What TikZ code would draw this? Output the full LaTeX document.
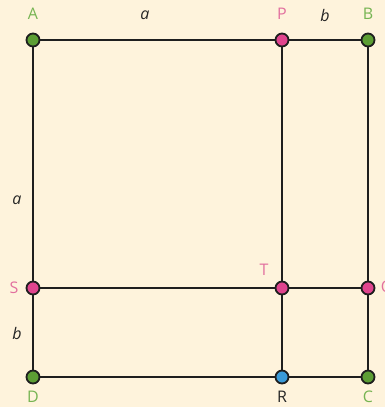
\documentclass[tikz,border=0pt]{standalone}
\usepackage{fontspec}
\setmainfont{Open Sans}
\definecolor{paper}{HTML}{FEF3DC}
\definecolor{ptgreen}{HTML}{5C9E34}
\definecolor{lblgreen}{HTML}{76B452}
\definecolor{ptpink}{HTML}{E0448E}
\definecolor{lblpink}{HTML}{E2709F}
\definecolor{ptblue}{HTML}{3A9AD8}
\definecolor{edge}{HTML}{1E1E1E}
\begin{document}
\begin{tikzpicture}[
        x=1pt, y=-1pt,
        pt/.style={circle, draw=edge, line width=1.8pt, minimum size=13pt, inner sep=0pt},
        side/.style={draw=edge, line width=2.7pt},
        lbl/.style={font=\fontsize{16}{19}\selectfont, inner sep=0pt},
        len/.style={font=\fontsize{16}{19}\selectfont\itshape, inner sep=0pt, text=black!85},
    ]
        \fill[paper] (0,0) rectangle (385,407);
        \useasboundingbox (0,0) rectangle (385,407);

        % sides
        \coordinate (a) at (33,40);
        \coordinate (p) at (282,40);
        \coordinate (b) at (368,40);
        \coordinate (s) at (33,288);
        \coordinate (t) at (282,288);
        \coordinate (q) at (368,288);
        \coordinate (d) at (33,377);
        \coordinate (r) at (282,377);
        \coordinate (c) at (368,377);

        \draw[side] (a) -- (b) -- (c) -- (d) -- cycle;
        \draw[side] (p) -- (r);
        \draw[side] (s) -- (q);

        % points
        \node[pt, fill=ptgreen] (A) at (a) {};
        \node[pt, fill=ptpink] (P) at (p) {};
        \node[pt, fill=ptgreen] (B) at (b) {};
        \node[pt, fill=ptpink] (S) at (s) {};
        \node[pt, fill=ptpink] (T) at (t) {};
        \node[pt, fill=ptpink] (Q) at (q) {};
        \node[pt, fill=ptgreen] (D) at (d) {};
        \node[pt, fill=ptblue] (R) at (r) {};
        \node[pt, fill=ptgreen] (C) at (c) {};

        % labels
        \node[lbl, text=lblgreen] (lA) at (33,14) {A};
        \node[lbl, text=lblpink] (lP) at (282,14) {P};
        \node[lbl, text=lblgreen] (lB) at (368,14) {B};
        \node[lbl, text=lblpink] (lS) at (14,288) {S};
        \node[lbl, text=lblpink] (lT) at (264,270) {T};
        \node[lbl, text=lblpink] (lQ) at (387,288) {Q};
        \node[lbl, text=lblgreen] (lD) at (33,397) {D};
        \node[lbl, text=black!85] (lR) at (282,397) {R};
        \node[lbl, text=lblgreen] (lC) at (368,397) {C};

        \node[len] (ab) at (145,15) {a};
        \node[len] (pb) at (325,15) {b};
        \node[len] (as) at (17,200) {a};
        \node[len] (sd) at (17,333) {b};
    \end{tikzpicture}
\end{document}
